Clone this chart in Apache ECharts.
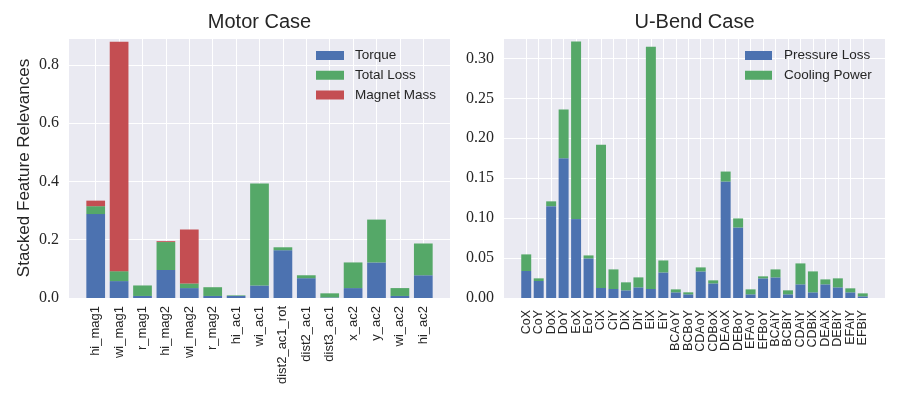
<!DOCTYPE html>
<html>
<head>
<meta charset="utf-8">
<script src="https://cdn.jsdelivr.net/npm/echarts@6/dist/echarts.min.js"></script>
<style>html,body{margin:0;padding:0;background:#fff;}#c{width:900px;height:400px;}</style>
</head>
<body>
<div id="c"></div>
<script>
// ---- Motor Case ----
const motorCategories = ['hi_mag1','wi_mag1','r_mag1','hi_mag2','wi_mag2','r_mag2','hi_ac1','wi_ac1','dist2_ac1_rot','dist2_ac1','dist3_ac1','x_ac2','y_ac2','wi_ac2','hi_ac2'];
const torque     = [0.288,0.058,0.007,0.096,0.034,0.007,0.007,0.043,0.164,0.068,0.002,0.034,0.122,0.007,0.078];
const totalLoss  = [0.027,0.034,0.036,0.096,0.016,0.030,0.002,0.350,0.010,0.010,0.014,0.088,0.147,0.027,0.109];
const magnetMass = [0.019,0.787,0,0.003,0.185,0,0,0,0,0,0,0,0,0,0];
const motorYTicks = [0,0.2,0.4,0.6,0.8];

// ---- U-Bend Case ----
const ubendCategories = ['CoX','CoY','DoX','DoY','EoX','EoY','CiX','CiY','DiX','DiY','EiX','EiY','BCAoY','BCBoY','CDAoY','CDBoX','DEAoX','DEBoY','EFAoY','EFBoY','BCAiY','BCBiY','CDAiY','CDBiX','DEAiX','DEBiY','EFAiY','EFBiY'];
const pressureLoss = [0.0338,0.0213,0.115,0.175,0.0988,0.0496,0.0125,0.0113,0.0096,0.0133,0.0113,0.032,0.0071,0.0046,0.0333,0.0183,0.1458,0.0883,0.0046,0.0246,0.0258,0.0046,0.0171,0.0071,0.0171,0.0133,0.0071,0.0021];
const coolingPowerTop = [0.0546,0.0246,0.121,0.236,0.321,0.0533,0.192,0.0358,0.0196,0.0258,0.3146,0.047,0.0108,0.0071,0.0383,0.0221,0.1583,0.0996,0.0108,0.0271,0.0358,0.0096,0.0433,0.0333,0.0233,0.0246,0.0121,0.0058];
const coolingPower = coolingPowerTop.map((t,i)=>+(t-pressureLoss[i]).toFixed(4));
const ubendYTicks = [0,0.05,0.10,0.15,0.20,0.25,0.30];

const TXT = '#262626';
const BLUE = '#4C72B0', GREEN = '#55A868', RED = '#C44E52';
const motorMax = 0.892, ubendMax = 0.3255;

const chart = echarts.init(document.getElementById('c'), null, {renderer:'canvas'});

function bgY(gi, max, interval, dec, extra){
  return Object.assign({
    type:'value', gridIndex:gi, min:0, max:max, interval:interval,
    axisLine:{show:false}, axisTick:{show:false},
    axisLabel:{fontFamily:'Liberation Serif', fontSize:16, color:TXT, margin:10, showMaxLabel:false,
      formatter:v=>v.toFixed(dec)},
    splitLine:{show:true, lineStyle:{color:'#ffffff', width:1}}
  }, extra||{});
}
function barX(gi, cats, fs, mg){
  return {
    type:'category', gridIndex:gi, data:cats, boundaryGap:true,
    axisLine:{show:false},
    axisTick:{show:true, alignWithLabel:true, inside:true, length:260, interval:0, lineStyle:{color:'#ffffff', width:1}},
    axisLabel:{rotate:90, interval:0, fontFamily:'Liberation Sans', fontSize:fs, color:TXT, margin:mg},
    splitLine:{show:false}
  };
}

chart.setOption({
  animation:false,
  backgroundColor:'#ffffff',
  title:[
    {text:'Motor Case', left:259.5, top:12, padding:0, textAlign:'center',
     textStyle:{fontFamily:'Liberation Sans', fontSize:20, fontWeight:'normal', color:TXT}},
    {text:'U-Bend Case', left:694.5, top:12, padding:0, textAlign:'center',
     textStyle:{fontFamily:'Liberation Sans', fontSize:20, fontWeight:'normal', color:TXT}}
  ],
  legend:[
    {data:['Torque','Total Loss','Magnet Mass'], orient:'vertical', left:316, top:48.5, padding:0,
     itemWidth:28, itemHeight:9, itemGap:5.75, icon:'rect',
     textStyle:{fontFamily:'Liberation Sans', fontSize:13.5, color:TXT, padding:[0,0,0,6]}},
    {data:['Pressure Loss','Cooling Power'], orient:'vertical', left:745, top:48.5, padding:0,
     itemWidth:27, itemHeight:9, itemGap:5.75, icon:'rect',
     textStyle:{fontFamily:'Liberation Sans', fontSize:13.5, color:TXT, padding:[0,0,0,7]}}
  ],
  grid:[
    {left:69, right:450, top:38, bottom:102, show:true, backgroundColor:'#EAEAF2', borderWidth:0, containLabel:false, outerBoundsMode:'none'},
    {left:84, right:465, top:38, bottom:102, containLabel:false, outerBoundsMode:'none'},
    {left:504, right:15, top:38, bottom:102, show:true, backgroundColor:'#EAEAF2', borderWidth:0, containLabel:false, outerBoundsMode:'none'},
    {left:520, right:31, top:38, bottom:102, containLabel:false, outerBoundsMode:'none'}
  ],
  xAxis:[
    {type:'value', gridIndex:0, show:false, min:0, max:1},
    barX(1, motorCategories, 13, 8),
    {type:'value', gridIndex:2, show:false, min:0, max:1},
    barX(3, ubendCategories, 12.5, 12)
  ],
  yAxis:[
    bgY(0, motorMax, 0.2, 1, {name:'Stacked Feature Relevances', nameLocation:'middle', nameGap:36,
      nameTextStyle:{fontFamily:'Liberation Sans', fontSize:17, color:TXT}}),
    {type:'value', gridIndex:1, show:false, min:0, max:motorMax, splitLine:{show:false}},
    bgY(2, ubendMax, 0.05, 2),
    {type:'value', gridIndex:3, show:false, min:0, max:ubendMax, splitLine:{show:false}}
  ],
  series:[
    {name:'Torque', type:'bar', stack:'motor', xAxisIndex:1, yAxisIndex:1, data:torque, barWidth:'80%', itemStyle:{color:BLUE}},
    {name:'Total Loss', type:'bar', stack:'motor', xAxisIndex:1, yAxisIndex:1, data:totalLoss, barWidth:'80%', itemStyle:{color:GREEN}},
    {name:'Magnet Mass', type:'bar', stack:'motor', xAxisIndex:1, yAxisIndex:1, data:magnetMass, barWidth:'80%', itemStyle:{color:RED}},
    {name:'Pressure Loss', type:'bar', stack:'ubend', xAxisIndex:3, yAxisIndex:3, data:pressureLoss, barWidth:'80%', itemStyle:{color:BLUE}},
    {name:'Cooling Power', type:'bar', stack:'ubend', xAxisIndex:3, yAxisIndex:3, data:coolingPower, barWidth:'80%', itemStyle:{color:GREEN}}
  ]
});
</script>
</body>
</html>
